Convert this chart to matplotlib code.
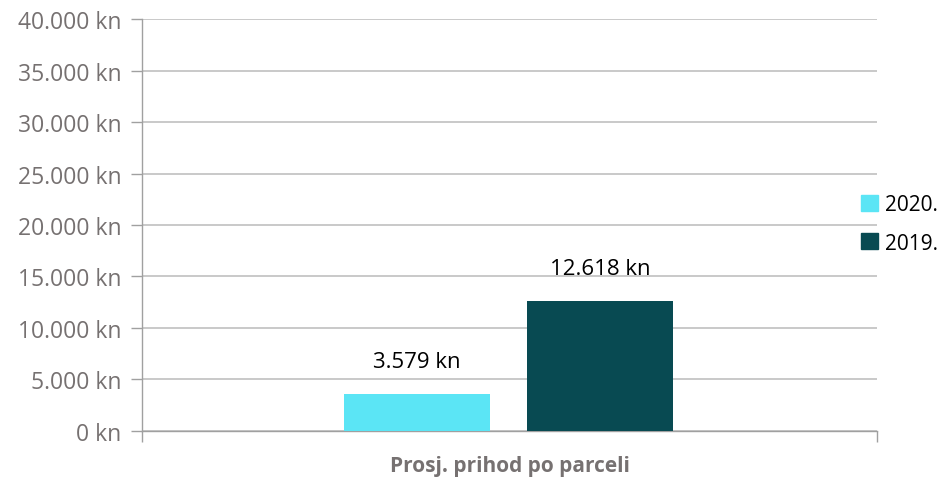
import matplotlib.pyplot as plt
from matplotlib.patches import Patch
from matplotlib.ticker import FuncFormatter

# data
category = "Prosj. prihod po parceli"
series = ["2020.", "2019."]
values = [3579, 12618]
colors = ["#5BE5F5", "#084A52"]
offsets = [-0.126, 0.123]
bar_width = 0.199

fig = plt.figure(figsize=(9.39, 4.81), dpi=100)
ax = fig.add_axes([0.1512, 0.1019, 0.7827, 0.8565])

for name, val, col, off in zip(series, values, colors, offsets):
    ax.bar(off, val, width=bar_width, color=col, zorder=3)
    label = f"{val:,.0f} kn".replace(",", ".")
    ax.text(off, val + 2100, label, ha="center", va="bottom",
            fontsize=16, family="Open Sans", color="#000000")

ax.set_xlim(-0.5, 0.5)
ax.set_ylim(0, 40000)
ax.set_yticks(range(0, 40001, 5000))
ax.yaxis.set_major_formatter(FuncFormatter(lambda v, p: f"{v:,.0f} kn".replace(",", ".")))
ax.grid(axis="y", color="#C0C0C0", linewidth=1.2, zorder=0)

ax.set_xticks([-0.5, 0.5])
ax.set_xticklabels(["", ""])
ax.tick_params(axis="both", length=8, width=1, color="#A0A0A0")
ax.tick_params(axis="y", labelsize=16.5, labelcolor="#767171", pad=7)
for lbl in ax.get_yticklabels():
    lbl.set_family("Open Sans")

for s in ["top", "right"]:
    ax.spines[s].set_visible(False)
for s in ["left", "bottom"]:
    ax.spines[s].set_color("#A0A0A0")
    ax.spines[s].set_linewidth(1)

ax.set_xlabel(category, fontsize=15, fontweight="bold", color="#767171",
              family="Open Sans", labelpad=6)

handles = [Patch(color=c, label=n) for n, c in zip(series, colors)]
fig.legend(handles=handles, loc="upper left", bbox_to_anchor=(0.908, 0.612),
           frameon=False, handlelength=0.8, handleheight=0.8,
           handletextpad=0.35, labelspacing=0.85, borderaxespad=0,
           prop={"family": "Open Sans", "size": 15})

fig.savefig("out.png", dpi=100)
